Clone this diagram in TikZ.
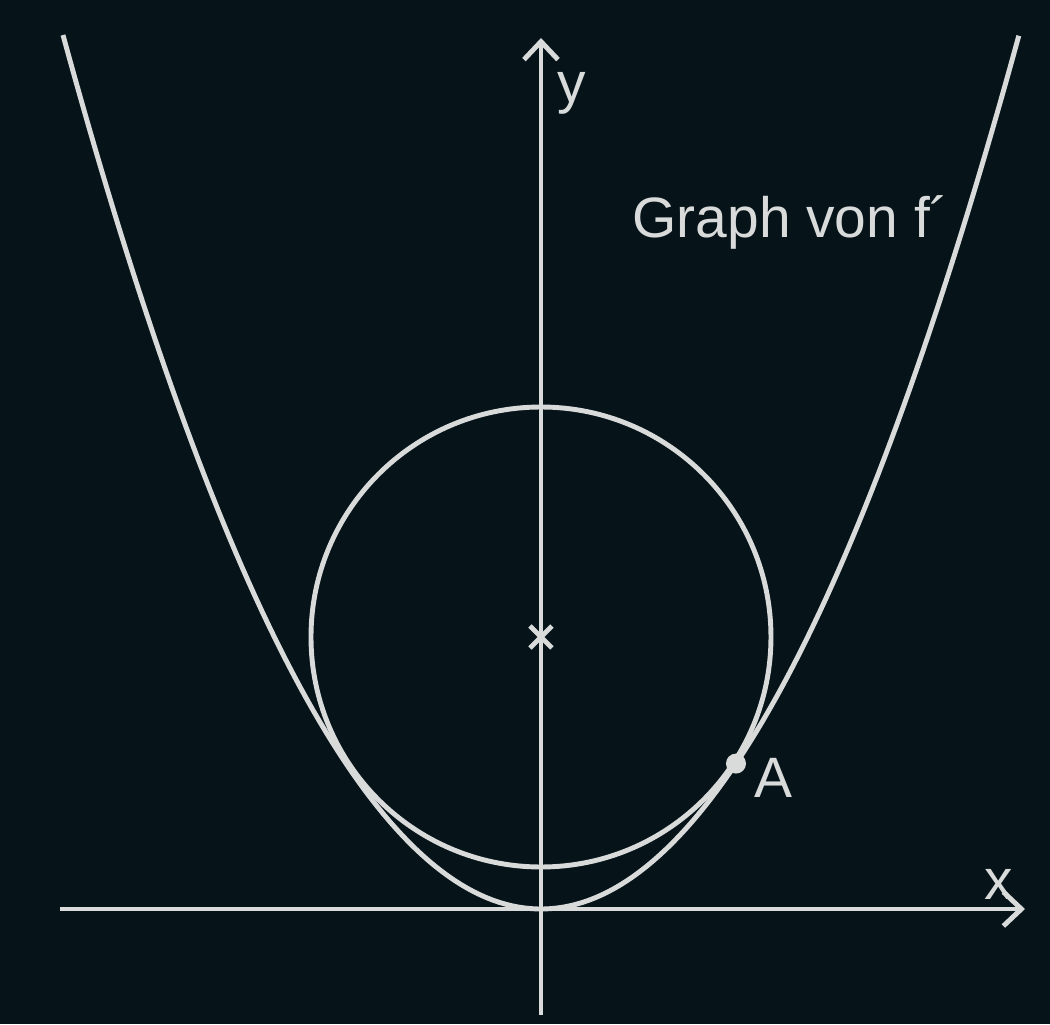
\documentclass[tikz,border=0pt]{standalone}
\usepackage{fontspec}
\setmainfont{Liberation Sans}
\usetikzlibrary{arrows.meta,positioning}
\definecolor{board}{HTML}{06141A}
\definecolor{chalk}{HTML}{D9DBDB}

\begin{document}
\begin{tikzpicture}[
                line width=1.4pt,
                axis/.style={chalk,-{Straight Barb[length=1.8mm,width=3.4mm]}},
                curve/.style={chalk},
                lbl/.style={text=chalk,inner sep=0pt,anchor=base west,
                    font=\fontsize{16.2}{19}\selectfont}
            ]
                \fill[board] (-5.41,-1.15) rectangle (5.09,9.09);
                \useasboundingbox (-5.41,-1.15) rectangle (5.09,9.09);
                \coordinate (xs) at (-4.81,0);
                \coordinate (xe) at (4.84,0);
                \coordinate (ys) at (0,-1.06);
                \coordinate (ye) at (0,8.71);
                \coordinate (M)  at (0,2.72);
                \coordinate (A)  at (1.95,{0.3825*1.95*1.95});
                \draw[axis] (xs) -- (xe);
                \draw[axis] (ys) -- (ye);
                \draw[curve,domain=-4.78:4.78,samples=150] plot (\x,{0.3825*\x*\x});
                \draw[curve] (M) circle[radius=2.30];
                \draw[curve] (M) ++(-0.11,-0.11) -- ++(0.22,0.22)
                             (M) ++(-0.11,0.11) -- ++(0.22,-0.22);
                \fill[chalk] (A) circle[radius=0.1];
                \node (ylabel) [lbl] at (0.14,8.06) {y};
                \node (xlabel) [lbl] at (4.41,0.10) {x};
                \node (Alabel) [lbl] at (2.11,1.12) {A};
                \node (graph)  [lbl] at (0.89,6.71) {Graph von f´};
            \end{tikzpicture}
\end{document}
